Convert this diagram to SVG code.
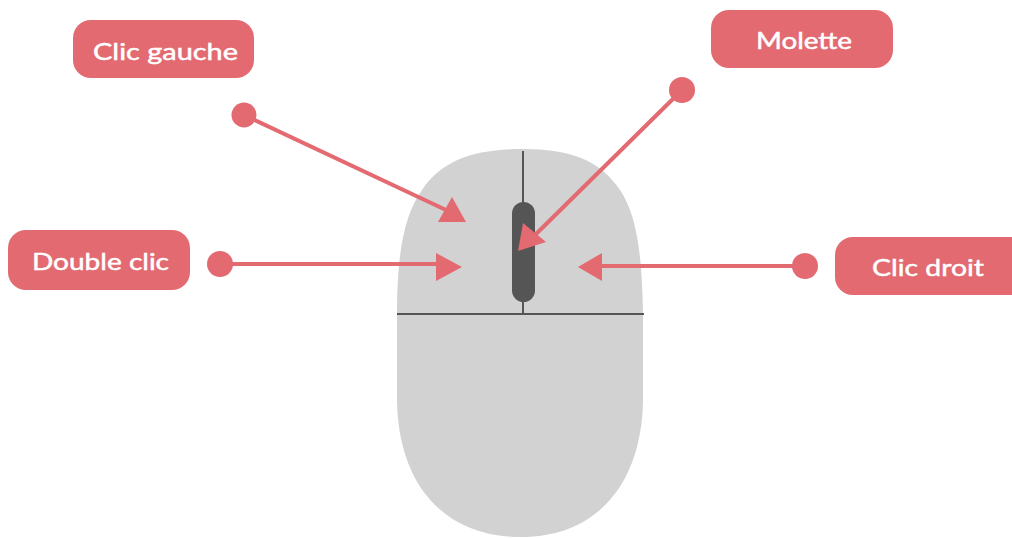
<svg xmlns="http://www.w3.org/2000/svg" width="1012" height="538" viewBox="0 0 1012 538">
<style>
.box{fill:#e26a70}
.lbl{fill:#fff;font-family:"Lato","Noto Sans",sans-serif;font-size:24px;font-weight:400;text-anchor:start;stroke:#fff;stroke-width:.5}
.ln{stroke:#e26a70;stroke-width:4;fill:none}
.hd,.dot{fill:#e26a70}
.div{stroke:#555;stroke-width:2;fill:none}
</style>
<rect width="1012" height="538" fill="#fff"/>
<g id="mouse">
<path d="M523 149C570 149 600 160 620 190C636 214 642 250 643 314L643 400C642 480 600 537 521 537C440 537 398 480 397 400L397 314C397 250 405 214 422 190C442 160 475 149 523 149Z" fill="#d2d2d2"/>
<path class="div" d="M523 151V314M397 314H644"/>
<rect x="512" y="202" width="23" height="100" rx="11.5" fill="#555"/>
</g>
<g id="connectors">
<path class="ln" d="M244 115L446 210"/><path class="hd" d="M466 222L452 197L438 222Z"/>
<path class="ln" d="M220 264H438"/><path class="hd" d="M462 267L436 253V281Z"/>
<path class="ln" d="M682 90L532 238"/><path class="hd" d="M518 251L523 223L546 242Z"/>
<path class="ln" d="M805 266H600"/><path class="hd" d="M578 267L602 253V281Z"/>
</g>
<g id="clic-gauche"><rect class="box" x="73" y="20" width="181" height="58" rx="18"/><text class="lbl" x="93" y="60" textLength="145" lengthAdjust="spacingAndGlyphs">Clic gauche</text><circle class="dot" cx="244" cy="115" r="12.5"/></g>
<g id="double-clic"><rect class="box" x="8" y="230" width="182" height="60" rx="18"/><text class="lbl" x="32" y="270" textLength="137" lengthAdjust="spacingAndGlyphs">Double clic</text><circle class="dot" cx="220" cy="264" r="13"/></g>
<g id="molette"><rect class="box" x="711" y="10" width="182" height="58" rx="18"/><text class="lbl" x="756" y="49" textLength="96" lengthAdjust="spacingAndGlyphs">Molette</text><circle class="dot" cx="682" cy="90" r="13"/></g>
<g id="clic-droit"><rect class="box" x="835" y="237" width="195" height="58" rx="18"/><text class="lbl" x="872" y="276" textLength="112" lengthAdjust="spacingAndGlyphs">Clic droit</text><circle class="dot" cx="805" cy="266" r="13"/></g>
</svg>
